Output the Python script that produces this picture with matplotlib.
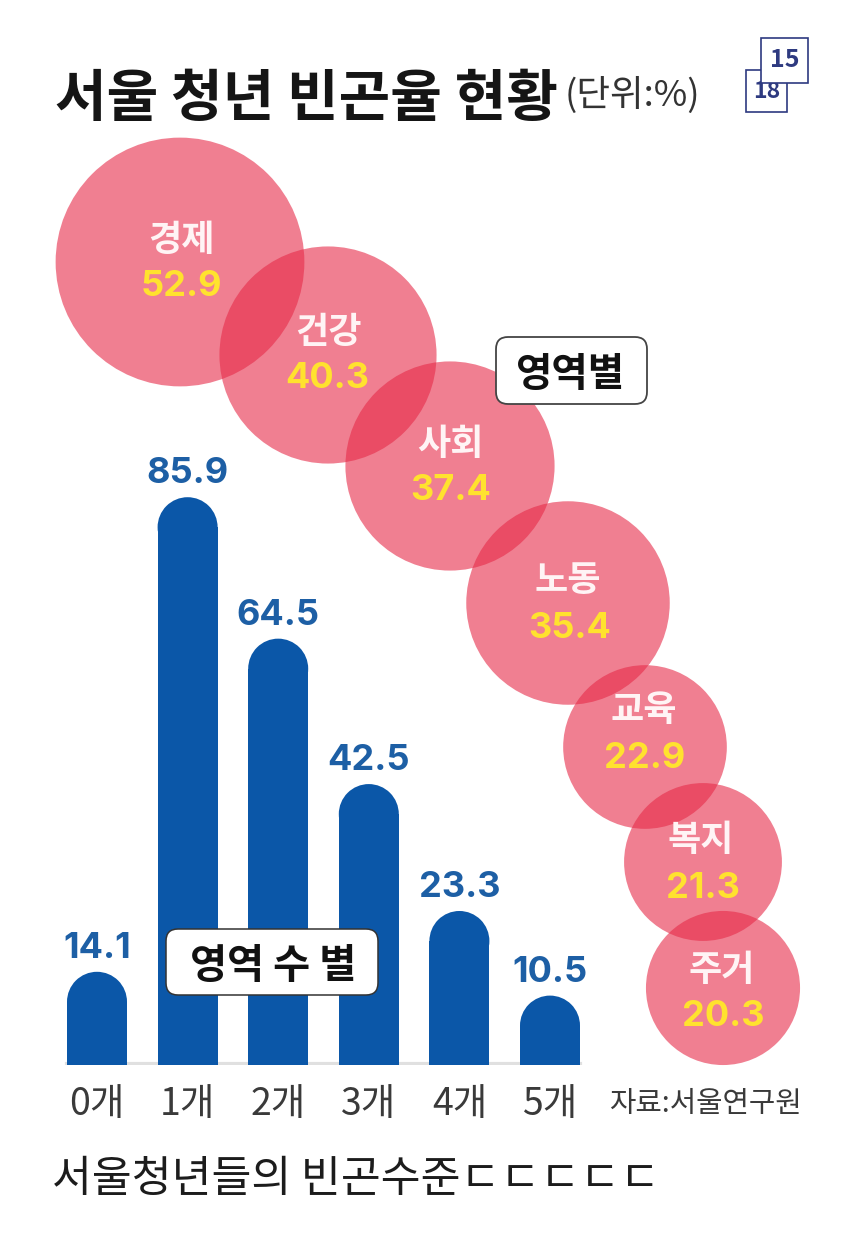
import matplotlib
matplotlib.use('Agg')
from matplotlib import pyplot as plt
from matplotlib.patches import Circle, Ellipse, FancyBboxPatch, Rectangle
import numpy as np

plt.rcParams['font.family'] = ['Noto Sans CJK KR', 'DejaVu Sans']

# значения с картинки
area_names = ['경제', '건강', '사회', '노동', '교육', '복지', '주거']
area_values = [52.9, 40.3, 37.4, 35.4, 22.9, 21.3, 20.3]
count_labels = ['0개', '1개', '2개', '3개', '4개', '5개']
count_values = [14.1, 85.9, 64.5, 42.5, 23.3, 10.5]

W, H = 850, 1253
BLUE = '#0b57a8'
LABEL_BLUE = '#1d5fa5'
YELLOW = '#ffe22e'

# центры кругов и подписей в пикселях
circle_x = [180, 328, 450, 568, 645, 703, 723]
circle_y = [262, 355, 466, 603, 747, 862, 988]
name_x = [181, 328, 450, 568, 644, 701, 722]
name_y = [240, 333, 444, 581, 711, 841, 971]
value_x = [181, 327, 451, 570, 645, 703, 723]
value_y = [287, 379, 491, 628, 758, 888, 1017]
radius_scale = 17.1

fig = plt.figure(figsize=(W / 100, H / 100), dpi=100, facecolor='white')

# фон в пикселях, y вниз
bg = fig.add_axes([0, 0, 1, 1])
bg.set_xlim(0, W)
bg.set_ylim(H, 0)
bg.axis('off')

bg.text(55, 100, '서울 청년 빈곤율 현황', fontsize=40.4, fontweight='bold', color='#151515', va='center', ha='left')
bg.text(565, 95, '(단위:%)', fontsize=26.3, color='#333333', va='center', ha='left')

# рамки 18 и 15
bg.add_patch(Rectangle((746, 70), 41, 42, fc='white', ec='#2e3a80', lw=1.2, zorder=2))
bg.text(766.5, 92, '18', fontsize=16.5, fontweight='bold', color='#2e3a80', ha='center', va='center', zorder=2)
bg.add_patch(Rectangle((761, 38), 47, 45, fc='white', ec='#2e3a80', lw=1.2, zorder=3))
bg.text(785, 60, '15', fontsize=18, fontweight='bold', color='#2e3a80', ha='center', va='center', zorder=3)

# круги: площадь пропорциональна значению
for i, value in enumerate(area_values):
    r = radius_scale * np.sqrt(value)
    bg.add_patch(Circle((circle_x[i], circle_y[i]), r, fc='#e62a48', ec='none', alpha=0.6, zorder=4))
    bg.text(name_x[i], name_y[i], area_names[i], fontsize=26, fontweight='bold', color='#fff4f5',
            ha='center', va='center', zorder=5)
    bg.text(value_x[i], value_y[i], f'{value}', fontsize=26, fontweight='bold', family='Inter', color=YELLOW,
            ha='center', va='center', zorder=5)

# столбцы
ax = fig.add_axes([0, (H - 1065) / H, 1, 1065 / H], facecolor='none')
px_per_unit = 6.61
px_per_cat = 90.6
ax.set_xlim(-97 / px_per_cat, (W - 97) / px_per_cat)
ax.set_ylim(0, 1065 / px_per_unit)
ax.axis('off')
bar_w = 60 / px_per_cat
cap_h = 60 / px_per_unit
ax.plot([-0.33, 5.33], [0.1, 0.1], color='#e0e0e0', lw=3, zorder=1)
for i, value in enumerate(count_values):
    ax.bar(i, value - cap_h / 2, width=bar_w, color=BLUE, zorder=2)
    ax.add_patch(Ellipse((i, value - cap_h / 2), bar_w, cap_h, fc=BLUE, ec='none', zorder=2))
    ax.text(i, value + 3.55, f'{value}', fontsize=26, fontweight='bold', family='Inter', color=LABEL_BLUE,
            ha='center', va='center')
    ax.text(i, -6.0, count_labels[i], fontsize=27, color='#3a3a3a', ha='center', va='center', clip_on=False)

# подписи в рамках
bg2 = fig.add_axes([0, 0, 1, 1], facecolor='none')
bg2.set_xlim(0, W)
bg2.set_ylim(H, 0)
bg2.axis('off')
bg2.add_patch(FancyBboxPatch((503, 344), 137, 53, boxstyle='round,pad=7,rounding_size=12', fc='white', ec='#444444', lw=1.3))
bg2.text(571, 375, '영역별', fontsize=28.5, fontweight='bold', color='#111111', ha='center', va='center')
bg2.add_patch(FancyBboxPatch((173, 936), 198, 52, boxstyle='round,pad=7,rounding_size=12', fc='white', ec='#333333', lw=1.1))
bg2.text(273, 967, '영역 수 별', fontsize=29, fontweight='bold', color='#111111', ha='center', va='center')

bg2.text(609, 1104, '자료:서울연구원', fontsize=20.7, color='#3a3a3a', ha='left', va='center')
bg2.text(52, 1180, '서울청년들의 빈곤수준ㄷㄷㄷㄷㄷ', fontsize=31.2, color='#1c1c1c', ha='left', va='center')

fig.savefig('out.png', dpi=100)
